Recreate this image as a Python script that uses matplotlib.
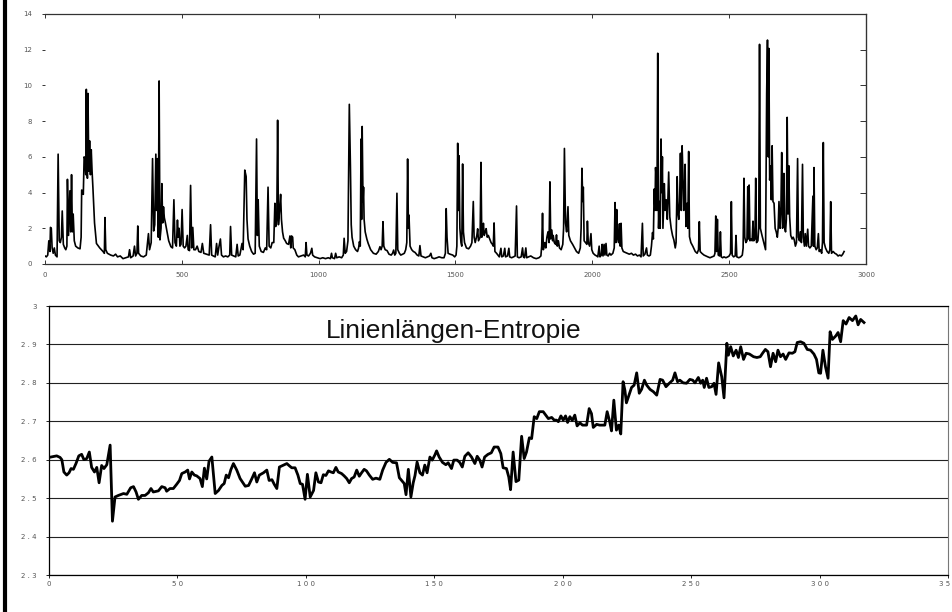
import matplotlib.pyplot as plt
from matplotlib.lines import Line2D

# upper panel: raw signal (sample index, value)
signal_x = [
    0, 5, 10, 14, 18, 20, 23, 26, 30, 34, 38, 44, 48, 52, 56, 60, 63, 67, 72, 76,
    80, 82, 86, 91, 94, 97, 100, 103, 107, 112, 120, 128, 132, 134, 137, 140, 143, 146, 149, 151,
    153, 155, 157, 160, 163, 166, 169, 172, 175, 181, 188, 200, 212, 217, 219, 222, 228, 240, 250, 258,
    265, 275, 285, 295, 305, 309, 313, 322, 327, 331, 336, 339, 342, 350, 360, 370, 378, 382, 388, 393,
    397, 401, 405, 408, 411, 414, 417, 420, 424, 427, 430, 433, 436, 440, 446, 452, 460, 466, 471, 475,
    480, 484, 487, 490, 493, 497, 501, 505, 510, 515, 520, 523, 528, 532, 536, 540, 544, 550, 556, 562,
    570, 575, 580, 590, 600, 605, 609, 615, 622, 627, 631, 636, 641, 645, 652, 660, 668, 675, 678, 682,
    690, 697, 702, 706, 712, 720, 724, 730, 735, 738, 742, 748, 755, 762, 768, 773, 776, 779, 783, 790,
    798, 805, 810, 815, 819, 825, 830, 836, 840, 843, 847, 850, 853, 857, 861, 864, 868, 872, 878, 883,
    890, 895, 898, 901, 905, 907, 913, 920, 926, 935, 945, 951, 954, 957, 963, 970, 975, 978, 985, 995,
    1005, 1015, 1025, 1035, 1043, 1047, 1050, 1058, 1062, 1066, 1075, 1084, 1090, 1093, 1097, 1102, 1107, 1112, 1116, 1119,
    1122, 1128, 1135, 1142, 1146, 1149, 1152, 1155, 1157, 1159, 1162, 1164, 1166, 1170, 1176, 1181, 1190, 1200, 1210, 1218,
    1224, 1228, 1232, 1235, 1238, 1243, 1250, 1257, 1265, 1270, 1274, 1278, 1282, 1286, 1289, 1295, 1300, 1307, 1313, 1318,
    1322, 1325, 1328, 1330, 1334, 1340, 1346, 1352, 1360, 1366, 1370, 1374, 1382, 1390, 1398, 1405, 1410, 1414, 1422, 1432,
    1440, 1450, 1458, 1463, 1466, 1469, 1473, 1480, 1490, 1497, 1502, 1505, 1508, 1511, 1513, 1516, 1520, 1523, 1526, 1529,
    1533, 1540, 1548, 1555, 1560, 1565, 1568, 1572, 1578, 1581, 1584, 1590, 1593, 1596, 1600, 1602, 1605, 1609, 1612, 1616,
    1620, 1625, 1630, 1635, 1638, 1641, 1644, 1650, 1655, 1660, 1666, 1669, 1675, 1680, 1683, 1690, 1695, 1698, 1705, 1712,
    1718, 1723, 1726, 1732, 1740, 1745, 1748, 1752, 1757, 1760, 1767, 1775, 1785, 1795, 1805, 1812, 1815, 1818, 1821, 1826,
    1830, 1834, 1838, 1842, 1845, 1848, 1852, 1855, 1857, 1861, 1866, 1869, 1872, 1876, 1880, 1886, 1892, 1895, 1898, 1902,
    1906, 1911, 1914, 1920, 1928, 1935, 1942, 1950, 1956, 1959, 1962, 1965, 1967, 1970, 1975, 1980, 1982, 1985, 1990, 1995,
    1998, 2003, 2010, 2016, 2020, 2025, 2028, 2033, 2036, 2039, 2043, 2046, 2050, 2053, 2058, 2063, 2068, 2075, 2080, 2083,
    2086, 2089, 2092, 2096, 2099, 2102, 2105, 2108, 2113, 2120, 2128, 2135, 2143, 2150, 2158, 2165, 2172, 2178, 2183, 2186,
    2192, 2198, 2201, 2207, 2212, 2216, 2220, 2223, 2226, 2229, 2231, 2234, 2236, 2239, 2242, 2245, 2248, 2251, 2254, 2256,
    2258, 2263, 2266, 2270, 2274, 2279, 2283, 2288, 2293, 2298, 2303, 2306, 2310, 2313, 2316, 2319, 2322, 2325, 2328, 2331,
    2334, 2337, 2339, 2342, 2346, 2349, 2352, 2355, 2360, 2367, 2376, 2383, 2388, 2391, 2394, 2400, 2408, 2415, 2422, 2430,
    2438, 2445, 2448, 2451, 2454, 2457, 2460, 2465, 2468, 2471, 2476, 2481, 2488, 2495, 2500, 2505, 2508, 2511, 2516, 2522,
    2525, 2528, 2535, 2542, 2548, 2551, 2554, 2557, 2561, 2565, 2568, 2570, 2573, 2576, 2580, 2584, 2587, 2590, 2594, 2597,
    2600, 2605, 2608, 2611, 2614, 2620, 2625, 2630, 2633, 2637, 2640, 2643, 2645, 2648, 2651, 2654, 2657, 2660, 2664, 2668,
    2672, 2676, 2679, 2682, 2686, 2689, 2692, 2695, 2697, 2700, 2703, 2706, 2709, 2712, 2715, 2718, 2721, 2725, 2730, 2734,
    2738, 2742, 2746, 2750, 2753, 2757, 2760, 2764, 2768, 2771, 2775, 2778, 2782, 2787, 2790, 2795, 2800, 2806, 2808, 2810,
    2813, 2818, 2822, 2826, 2829, 2834, 2838, 2841, 2844, 2847, 2852, 2858, 2864, 2868, 2871, 2874, 2880, 2886, 2892, 2898,
    2904, 2910, 2915, 2920,
]
signal_y = [
    0.45, 0.4, 0.5, 1.3, 0.7, 2.05, 2.0, 0.9, 0.6, 0.9, 0.5, 0.4, 6.15, 1.3, 1.2, 1.5, 2.97, 1.1, 0.9, 0.8,
    1.0, 4.74, 1.6, 4.1, 1.8, 5.0, 1.8, 2.8, 1.3, 1.0, 0.9, 0.85, 1.5, 4.14, 4.1, 3.9, 6.0, 5.9, 5.0, 9.78,
    5.5, 4.8, 9.55, 5.2, 6.9, 5.0, 6.4, 5.2, 4.3, 2.3, 1.15, 0.9, 0.7, 0.6, 2.6, 0.8, 0.6, 0.5, 0.45, 0.55,
    0.4, 0.45, 0.3, 0.35, 0.4, 0.8, 0.35, 0.45, 1.0, 0.45, 0.6, 2.13, 0.6, 0.45, 0.4, 0.5, 1.7, 0.8, 1.2, 5.9,
    1.85, 2.2, 6.15, 3.0, 5.9, 1.5, 10.25, 1.35, 2.0, 4.5, 2.3, 3.2, 2.6, 2.3, 1.8, 1.3, 0.97, 0.9, 3.6, 1.2,
    1.0, 2.46, 1.5, 2.0, 1.0, 1.1, 3.05, 1.0, 0.9, 1.0, 1.6, 0.8, 0.75, 4.4, 0.9, 2.05, 0.8, 0.8, 1.0, 0.7,
    0.65, 1.15, 0.6, 0.55, 0.5, 2.2, 0.5, 0.45, 0.4, 1.15, 0.5, 1.0, 1.4, 0.5, 0.4, 0.45, 0.4, 0.5, 2.1, 0.5,
    0.45, 0.4, 1.1, 0.45, 0.5, 1.15, 0.8, 5.26, 4.9, 2.5, 1.4, 1.0, 0.7, 0.55, 0.6, 7.0, 1.6, 3.6, 1.0, 0.7,
    0.65, 0.9, 0.8, 4.3, 1.0, 0.9, 1.2, 1.2, 3.4, 2.1, 2.5, 8.05, 2.2, 3.0, 3.9, 2.5, 1.8, 1.45, 1.3, 1.15,
    1.1, 1.57, 0.9, 1.57, 1.5, 0.9, 0.8, 0.5, 0.4, 0.45, 0.5, 0.4, 1.2, 0.5, 0.45, 0.6, 0.88, 0.5, 0.4, 0.35,
    0.3, 0.35, 0.3, 0.35, 0.3, 0.6, 0.35, 0.3, 0.6, 0.35, 0.4, 0.35, 0.5, 1.44, 0.6, 0.7, 1.3, 8.94, 5.5, 2.2,
    1.5, 1.0, 0.8, 0.7, 0.9, 1.25, 1.0, 7.0, 2.5, 7.7, 3.5, 4.3, 2.5, 1.8, 1.4, 1.15, 0.8, 0.6, 0.55, 0.7,
    0.97, 0.8, 1.0, 2.37, 1.0, 0.8, 0.75, 0.55, 0.5, 0.6, 0.78, 0.5, 0.6, 3.96, 0.8, 0.6, 0.5, 0.55, 0.6, 0.8,
    1.2, 5.88, 2.0, 2.74, 1.0, 0.8, 0.7, 0.65, 0.5, 0.45, 1.03, 0.45, 0.4, 0.35, 0.4, 0.45, 0.6, 0.35, 0.3, 0.35,
    0.4, 0.35, 0.35, 0.6, 3.1, 1.5, 0.6, 0.55, 0.5, 0.4, 0.5, 1.0, 6.76, 3.0, 6.06, 2.0, 1.2, 1.0, 5.6, 1.8,
    1.2, 0.9, 0.85, 1.0, 1.2, 3.5, 1.5, 1.2, 1.6, 1.97, 1.3, 1.5, 5.69, 1.5, 1.9, 2.28, 1.6, 1.8, 1.98, 1.5,
    1.6, 1.4, 1.2, 1.1, 1.0, 2.3, 0.7, 0.6, 0.5, 0.4, 0.88, 0.4, 0.45, 0.88, 0.4, 0.45, 0.88, 0.4, 0.35, 0.4,
    0.45, 3.25, 0.4, 0.35, 0.4, 0.9, 0.4, 0.35, 0.9, 0.35, 0.4, 0.45, 0.35, 0.3, 0.35, 0.45, 1.0, 2.84, 0.8, 1.2,
    0.9, 1.5, 1.8, 1.2, 4.6, 1.4, 1.9, 1.3, 1.6, 1.2, 1.1, 1.63, 1.0, 1.3, 0.9, 0.8, 1.1, 2.0, 6.47, 2.3,
    1.8, 3.21, 1.6, 1.3, 1.1, 0.9, 0.7, 0.6, 0.9, 2.0, 5.36, 3.5, 4.3, 1.3, 1.2, 1.1, 2.4, 1.2, 1.0, 1.7,
    0.8, 0.6, 0.5, 0.45, 0.4, 1.0, 0.4, 0.5, 1.1, 0.45, 1.1, 0.5, 1.15, 0.5, 0.45, 0.6, 0.5, 0.6, 0.9, 3.44,
    1.2, 3.05, 1.5, 1.2, 2.25, 1.0, 2.28, 0.9, 0.7, 0.65, 0.6, 0.55, 0.6, 0.5, 0.55, 0.45, 0.5, 0.4, 2.28, 0.45,
    0.55, 0.9, 0.5, 0.45, 0.5, 1.0, 1.76, 1.4, 4.2, 3.0, 5.4, 4.7, 3.0, 11.8, 2.0, 3.5, 2.0, 7.0, 4.0, 6.0,
    2.0, 4.5, 3.0, 3.6, 2.5, 5.15, 2.65, 2.0, 1.6, 1.34, 0.9, 1.2, 4.89, 2.84, 2.5, 3.5, 6.2, 3.0, 6.62, 5.07,
    3.0, 4.0, 5.58, 2.1, 3.4, 2.0, 6.3, 1.53, 1.2, 1.0, 0.7, 0.6, 0.8, 2.37, 0.7, 0.6, 0.5, 0.45, 0.4, 0.35,
    0.4, 0.45, 0.6, 2.69, 0.7, 2.5, 0.5, 0.45, 1.8, 0.4, 0.35, 0.4, 0.35, 0.4, 0.45, 0.6, 3.49, 0.5, 0.4, 0.45,
    1.6, 0.4, 0.35, 0.4, 0.5, 0.9, 4.8, 1.5, 1.2, 1.3, 4.33, 1.4, 4.42, 1.3, 1.4, 1.3, 2.4, 1.3, 1.4, 4.8,
    1.2, 1.3, 2.0, 12.3, 2.0, 1.6, 1.3, 1.0, 0.8, 9.56, 12.54, 6.0, 12.07, 4.7, 5.5, 3.6, 6.62, 3.5, 3.4, 2.0,
    1.8, 1.5, 2.0, 3.5, 2.0, 3.0, 6.24, 2.0, 2.2, 5.07, 2.0, 1.8, 2.5, 8.21, 2.8, 5.5, 2.65, 1.6, 1.4, 1.5,
    1.34, 1.0, 1.2, 5.9, 1.5, 1.3, 1.8, 1.2, 5.58, 1.5, 1.0, 1.7, 1.0, 1.95, 1.0, 0.9, 1.0, 3.8, 1.0, 5.4,
    1.0, 0.8, 0.9, 1.7, 0.7, 0.8, 0.6, 1.2, 6.8, 1.2, 0.9, 0.7, 0.6, 0.8, 3.49, 0.6, 0.7, 0.6, 0.55, 0.45,
    0.5, 0.45, 0.55, 0.7,
]

# lower panel: line length entropy per window
entropy_x = [
    0, 3, 4.3, 5, 5.8, 6.9, 7.8, 8.6, 9.5, 10.5, 11.6, 12.7, 13.6, 14.7, 15.7, 16.6, 17.7, 18.6, 19.5, 20.5,
    21.4, 22.5, 23.8, 24.7, 25.7, 27, 29, 30.3, 31.8, 32.9, 33.9, 34.8, 36.1, 37.4, 38.7, 39.7, 40.6, 42.6, 43.9, 45.2,
    45.8, 47.1, 48.4, 49.7, 50.8, 51.7, 53, 54, 54.7, 55.6, 56.6, 57.5, 58.8, 59.7, 60.5, 61.4, 62.3, 63.4, 64.7, 66,
    67.3, 68.2, 69, 69.9, 70.8, 71.8, 73.1, 74.4, 76.4, 77.7, 79, 80, 80.9, 81.9, 83.5, 84.8, 85.7, 86.8, 87.7, 88.7,
    89.7, 91.3, 92.6, 93.6, 94.5, 95.8, 96.9, 97.8, 98.7, 99.7, 100.6, 101.7, 103, 103.9, 104.9, 105.9, 106.8, 107.8, 108.8, 109.8,
    110.7, 111.7, 112.6, 113.9, 114.9, 115.9, 116.9, 117.8, 118.8, 119.8, 120.8, 121.7, 122.7, 123.6, 124.7, 126, 127.3, 128.8, 129.9, 131.2,
    132.5, 133.8, 135.3, 136.4, 137.3, 138.3, 139, 139.9, 140.9, 141.8, 142.5, 143.3, 144.4, 145.4, 146.3, 147.2, 148.3, 149.2, 150.2, 150.9,
    151.9, 153.2, 154.5, 155.4, 156.7, 157.6, 158.9, 159.9, 160.9, 161.9, 163.2, 164.5, 165.8, 166.7, 167.7, 168.6, 169.6, 170.9, 172.2, 173.3,
    174.8, 175.9, 176.8, 178.1, 179, 179.7, 180.7, 181.8, 182.9, 184, 185, 185.9, 187, 187.9, 188.9, 189.9, 190.9, 192.4, 193.4, 194.4,
    195.7, 196.7, 197.6, 198.3, 199.3, 200.2, 201.1, 201.9, 202.8, 203.7, 204.7, 205.6, 206.7, 207.7, 209.3, 210.3, 211.2, 211.9, 213.2, 214.4,
    216.4, 217.3, 218.3, 219, 219.9, 220.9, 221.8, 222.6, 223.5, 224.2, 224.8, 225.8, 226.8, 227.8, 228.8, 229.8, 230.7, 231.8, 232.7, 234,
    235.3, 236.6, 237.9, 238.9, 240.2, 241.5, 242.8, 243.7, 244.7, 245.6, 246.9, 248.2, 249.5, 250.6, 251.5, 252.8, 253.7, 254.5, 255.1, 256,
    256.9, 258, 258.9, 259.7, 260.7, 261.9, 262.8, 263.9, 264.5, 265.4, 266.4, 267.5, 268.4, 269.3, 270.4, 271.4, 272.7, 274.3, 275.6, 276.9,
    277.9, 278.9, 279.9, 280.9, 281.9, 282.9, 283.8, 284.8, 285.8, 286.8, 288.1, 289.4, 290.4, 291.3, 292.6, 293.9, 295.2, 296.5, 297.8, 298.8,
    299.7, 300.4, 301.3, 302.3, 303.3, 304.1, 305, 306.3, 307.2, 308.2, 309.2, 310.3, 311.5, 312.8, 314.1, 315, 316, 317.3,
]
entropy_y = [
    2.606, 2.61, 2.606, 2.60, 2.568, 2.56, 2.566, 2.577, 2.575, 2.59, 2.61, 2.614, 2.60, 2.603, 2.62, 2.58, 2.568, 2.58, 2.54, 2.585,
    2.577, 2.587, 2.638, 2.44, 2.503, 2.507, 2.512, 2.51, 2.527, 2.53, 2.516, 2.497, 2.507, 2.507, 2.514, 2.525, 2.516, 2.519, 2.53, 2.527,
    2.518, 2.525, 2.525, 2.536, 2.546, 2.564, 2.568, 2.573, 2.55, 2.568, 2.56, 2.558, 2.551, 2.53, 2.578, 2.55, 2.596, 2.607, 2.512, 2.52,
    2.533, 2.538, 2.56, 2.553, 2.574, 2.59, 2.573, 2.551, 2.531, 2.533, 2.551, 2.566, 2.542, 2.56, 2.566, 2.573, 2.546, 2.548, 2.536, 2.525,
    2.581, 2.586, 2.59, 2.584, 2.579, 2.579, 2.56, 2.538, 2.536, 2.497, 2.562, 2.503, 2.52, 2.566, 2.542, 2.54, 2.561, 2.559, 2.571, 2.568,
    2.566, 2.58, 2.568, 2.564, 2.558, 2.551, 2.54, 2.551, 2.555, 2.573, 2.557, 2.566, 2.575, 2.571, 2.56, 2.549, 2.552, 2.549, 2.573, 2.593,
    2.601, 2.593, 2.592, 2.553, 2.546, 2.538, 2.509, 2.575, 2.503, 2.54, 2.559, 2.594, 2.566, 2.56, 2.586, 2.566, 2.607, 2.599, 2.612, 2.623,
    2.607, 2.593, 2.587, 2.592, 2.577, 2.599, 2.599, 2.593, 2.581, 2.609, 2.618, 2.607, 2.59, 2.609, 2.599, 2.581, 2.607, 2.614, 2.618, 2.633,
    2.633, 2.616, 2.579, 2.577, 2.555, 2.522, 2.62, 2.543, 2.547, 2.661, 2.603, 2.62, 2.657, 2.655, 2.712, 2.707, 2.725, 2.725, 2.716, 2.707,
    2.710, 2.703, 2.703, 2.699, 2.714, 2.703, 2.714, 2.697, 2.712, 2.702, 2.716, 2.688, 2.696, 2.690, 2.690, 2.733, 2.720, 2.684, 2.692, 2.690,
    2.690, 2.725, 2.699, 2.675, 2.755, 2.677, 2.690, 2.667, 2.803, 2.781, 2.748, 2.768, 2.788, 2.794, 2.826, 2.773, 2.783, 2.807, 2.794, 2.783,
    2.777, 2.768, 2.809, 2.807, 2.790, 2.799, 2.807, 2.826, 2.803, 2.807, 2.800, 2.799, 2.809, 2.807, 2.800, 2.814, 2.799, 2.807, 2.788, 2.812,
    2.788, 2.790, 2.799, 2.770, 2.852, 2.816, 2.761, 2.903, 2.872, 2.894, 2.870, 2.885, 2.866, 2.894, 2.861, 2.877, 2.875, 2.868, 2.866, 2.868,
    2.878, 2.887, 2.881, 2.842, 2.877, 2.855, 2.885, 2.868, 2.875, 2.861, 2.878, 2.877, 2.881, 2.905, 2.907, 2.903, 2.887, 2.885, 2.875, 2.861,
    2.826, 2.825, 2.885, 2.842, 2.812, 2.933, 2.913, 2.922, 2.931, 2.907, 2.962, 2.953, 2.970, 2.962, 2.974, 2.951, 2.965, 2.957,
]

top_xticks = [0, 500, 1000, 1500, 2000, 2500, 3000]
top_yticks = [0, 2, 4, 6, 8, 10, 12, 14]
bot_xticks = [0, 50, 100, 150, 200, 250, 300, 350]
bot_yticks = [2.3, 2.4, 2.5, 2.6, 2.7, 2.8, 2.9, 3.0]
bot_xlabels = ["0", "5 0", "1 0 0", "1 5 0", "2 0 0", "2 5 0", "3 0 0", "3 5 0"]
bot_ylabels = ["2 . 3", "2 . 4", "2 . 5", "2 . 6", "2 . 7", "2 . 8", "2 . 9", "3"]
title = "Linienlängen-Entropie"

W, H = 953, 612
fig = plt.figure(figsize=(W / 100, H / 100), dpi=100)
label_color = "#555555"
spine_color = "#333333"

# --- top panel
ax1 = fig.add_axes([45 / W, 1 - 264 / H, 821 / W, 250 / H])
ax1.plot(signal_x, signal_y, color="black", lw=1.2)
ax1.set_xlim(0, 3000)
ax1.set_ylim(0, 14)
ax1.set_xticks(top_xticks)
ax1.set_yticks(top_yticks)
ax1.spines["left"].set_visible(False)
for s in ["top", "right", "bottom"]:
    ax1.spines[s].set_color(spine_color)
    ax1.spines[s].set_linewidth(0.9)
ax1.tick_params(axis="x", direction="in", top=True, bottom=True, length=3,
                width=0.7, color=spine_color, labelsize=5, labelcolor=label_color, pad=6)
ax1.tick_params(axis="y", direction="out", left=True, right=False, length=2.5,
                width=0.7, color=spine_color, labelsize=5, labelcolor=label_color, pad=7)
sec = ax1.secondary_yaxis("right")
sec.set_yticks(top_yticks)
sec.tick_params(direction="in", length=4, width=0.7, color=spine_color, labelright=False)
sec.spines["right"].set_color(spine_color)

# --- bottom panel
ax2 = fig.add_axes([49 / W, 37 / H, 899 / W, 269 / H])
ax2.plot(entropy_x, entropy_y, color="black", lw=2.0)
ax2.set_xlim(0, 350)
ax2.set_ylim(2.3, 3.0)
ax2.set_xticks(bot_xticks)
ax2.set_xticklabels(bot_xlabels)
ax2.set_yticks(bot_yticks)
ax2.set_yticklabels(bot_ylabels)
ax2.grid(axis="y", color="#222222", lw=0.8)
ax2.set_axisbelow(True)
for s in ["top", "left", "bottom"]:
    ax2.spines[s].set_color("black")
    ax2.spines[s].set_linewidth(0.9)
ax2.spines["right"].set_color("#777777")
ax2.tick_params(axis="x", direction="out", length=2, width=0.6, labelsize=5,
                labelcolor=label_color, pad=2)
ax2.tick_params(axis="y", direction="out", length=2.5, width=0.6, labelsize=5,
                labelcolor=label_color, pad=6.5)
ax2.text(0.4505, 0.881, title, transform=ax2.transAxes, ha="center", va="baseline",
         fontsize=18.9, family="Liberation Sans", color="#111111")

# thick frame line on the left edge
fig.add_artist(Line2D([5 / W, 5 / W], [0, 1], transform=fig.transFigure,
                      color="black", lw=3))

fig.savefig("out.png", dpi=100)
